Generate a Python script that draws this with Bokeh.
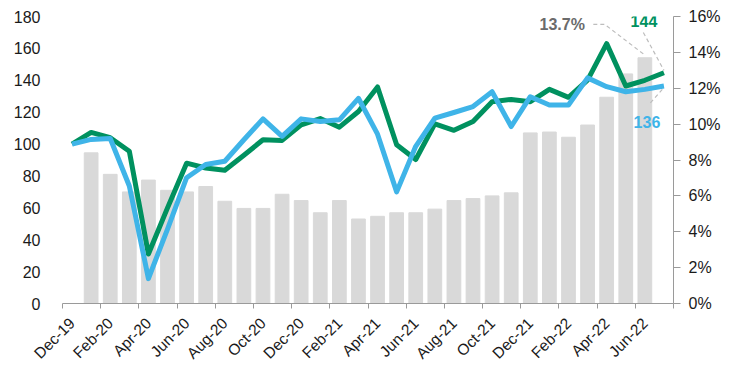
import numpy as np
from bokeh.plotting import figure
from bokeh.models import (Range1d, LinearAxis, FixedTicker, PrintfTickFormatter, Label)
from bokeh.embed import file_html
from bokeh.resources import INLINE

months = ["Dec-19", "Jan-20", "Feb-20", "Mar-20", "Apr-20", "May-20", "Jun-20", "Jul-20",
          "Aug-20", "Sep-20", "Oct-20", "Nov-20", "Dec-20", "Jan-21", "Feb-21", "Mar-21",
          "Apr-21", "May-21", "Jun-21", "Jul-21", "Aug-21", "Sep-21", "Oct-21", "Nov-21",
          "Dec-21", "Jan-22", "Feb-22", "Mar-22", "Apr-22", "May-22", "Jun-22", "Jul-22"]

green_index = [100, 107.3, 104, 95.5, 31, 60, 88, 85, 83.6, 93, 102.7, 102.3, 112, 116, 110.6,
               120.4, 135.8, 99.6, 90.3, 112.7, 108.6, 114.2, 126.6, 128, 126.6, 134.3, 129.3,
               140.1, 163, 136.4, 140, 144.7]
blue_index = [100, 102.9, 103.5, 73.7, 15.6, 46.7, 78.9, 87.2, 89.2, 102.7, 115.8, 104.8,
              115.8, 114.2, 115.2, 128.7, 106.2, 70.0, 98.6, 116.2, 119.8, 123.5, 132.8, 111,
              129.7, 124.5, 124.5, 141.5, 136, 132.8, 134.3, 136.4]
bar_months = months[1:31]
bar_pct = [8.4, 7.2, 6.22, 6.88, 6.31, 6.22, 6.52, 5.70, 5.30, 5.30, 6.09, 5.74, 5.06, 5.74,
           4.71, 4.86, 5.06, 5.06, 5.26, 5.74, 5.85, 6.0, 6.17, 9.51, 9.56, 9.27, 9.95, 11.5,
           12.8, 13.7]
tick_labels = months[0::2]

left_ticks = list(range(0, 181, 20))
right_ticks = list(range(0, 17, 2))

GREEN = "#00915f"
BLUE = "#3fb4e8"
BAR = "#d9d9d9"
AXIS = "#9a9a9a"
FONT = "Liberation Sans"

n = len(months)
xc = np.arange(n) + 0.5
bar_x = [months.index(m) + 0.5 for m in bar_months]

p = figure(width=739, height=370, output_backend="svg", toolbar_location=None,
           x_range=Range1d(0, n), y_range=Range1d(0, 180),
           min_border_left=62, min_border_right=66, min_border_top=16, min_border_bottom=65)
p.extra_y_ranges = {"pct": Range1d(0, 16)}
p.outline_line_color = None
p.grid.visible = False
p.background_fill_color = "white"
p.border_fill_color = "white"

# bars (right axis)
p.vbar(x=bar_x, top=bar_pct, width=0.72, color=BAR, y_range_name="pct")

# lines (left axis)
p.line(xc, green_index, line_color=GREEN, line_width=5, line_join="round")
p.line(xc, blue_index, line_color=BLUE, line_width=5, line_join="round")

# left axis
ya = p.yaxis[0]
ya.ticker = FixedTicker(ticks=left_ticks)
ya.axis_line_color = None
ya.major_tick_line_color = None
ya.minor_tick_line_color = None
ya.major_label_standoff = 16
ya.major_label_text_font = FONT
ya.major_label_text_font_size = "16px"
ya.major_label_text_color = "#1a1a1a"

# right axis
ra = LinearAxis(y_range_name="pct", ticker=FixedTicker(ticks=right_ticks),
                formatter=PrintfTickFormatter(format="%d%%"))
ra.axis_line_color = AXIS
ra.major_tick_line_color = AXIS
ra.major_tick_out = 7
ra.major_tick_in = 0
ra.minor_tick_line_color = None
ra.major_label_standoff = 8
ra.major_label_text_font = FONT
ra.major_label_text_font_size = "16px"
ra.major_label_text_color = "#1a1a1a"
p.add_layout(ra, "right")

# bottom axis: labels at category centres, tick marks at category boundaries
xa = p.xaxis[0]
lab_pos = [months.index(m) + 0.5 for m in tick_labels]
bounds = list(range(0, n + 1, 2))
xa.ticker = FixedTicker(ticks=lab_pos, minor_ticks=bounds)
xa.major_label_overrides = {months.index(m) + 0.5: m for m in tick_labels}
xa.axis_line_color = AXIS
xa.major_tick_line_color = None
xa.major_tick_out = 0
xa.major_tick_in = 0
xa.minor_tick_line_color = AXIS
xa.minor_tick_out = 5
xa.minor_tick_in = 0
xa.major_label_orientation = np.pi / 4
xa.major_label_standoff = 12
xa.major_label_text_font = FONT
xa.major_label_text_font_size = "15.5px"
xa.major_label_text_color = "#1a1a1a"

# annotations
last = n - 1
jun = months.index("Jun-22")
x_last = last + 0.5
x_jun = jun + 0.5
bar_jun = bar_pct[bar_months.index("Jun-22")]

lead = dict(line_color="#bdbdbd", line_width=1.2, line_dash="4 3")
p.line([x_jun - 2.7, x_jun - 2.1, x_jun], [bar_jun + 1.86, bar_jun + 1.86, bar_jun + 0.15],
       y_range_name="pct", **lead)
p.line([x_last - 1.08, x_last], [green_index[last] + 25.3, green_index[last] + 1.5], **lead)
p.line([x_last - 0.71, x_last], [blue_index[last] - 10.6, blue_index[last] - 1.0], **lead)

p.add_layout(Label(x=x_jun, y=bar_jun, y_range_name="pct", x_offset=-60, y_offset=33,
                   text=f"{bar_jun:.1f}%", text_align="right", text_baseline="middle",
                   text_font=FONT, text_font_size="16px", text_font_style="bold",
                   text_color="#6b6b6b"))
p.add_layout(Label(x=x_last, y=green_index[last], x_offset=-20, y_offset=52,
                   text=f"{int(green_index[last])}", text_align="center", text_baseline="middle",
                   text_font=FONT, text_font_size="16px", text_font_style="bold",
                   text_color=GREEN))
p.add_layout(Label(x=x_last, y=blue_index[last], x_offset=-17, y_offset=-36,
                   text=f"{int(blue_index[last])}", text_align="center", text_baseline="middle",
                   text_font=FONT, text_font_size="16px", text_font_style="bold",
                   text_color=BLUE))

open("out.html", "w").write(file_html(p, INLINE))
